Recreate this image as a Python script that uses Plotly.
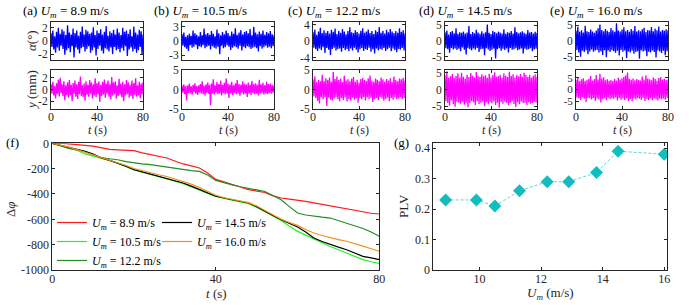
import numpy as np
import plotly.graph_objects as go

W, H = 692, 305

# ---------------- data ----------------
speeds_top = ["8.9", "10.5", "12.2", "14.5", "16.0"]
panel_letters = ["a", "b", "c", "d", "e"]
t_ticks = [0, 40, 80]

alpha_a = [1.2,-0.9,1.6,-1.3,0.7,-1.8,1.4,-1.0,2.0,-1.5,
           1.1,-0.7,1.8,-1.2,1.5,-2.1,0.9,-1.4,2.4,-1.1,
           1.3,-1.7,1.0,-0.8,1.9,-2.5,1.2,-1.0,1.6,-1.3,
           0.8,-1.9,1.4,-1.1,2.2,-0.9,1.0,-1.6,1.7,-1.2,
           1.5,-0.8,1.1,-1.8,1.3,-1.4,2.1,-1.0,0.9,-2.2,
           1.6,-1.2,1.2,-0.7,1.8,-1.5,1.0,-1.9,1.4,-1.1,
           2.3,-1.3,0.8,-1.6,1.5,-1.0,1.2,-2.0,1.7,-0.9,
           1.0,-1.4,1.9,-1.2,1.3,-1.7,0.9,-1.1,2.0,-1.5,
           1.4,-0.8,1.6,-2.3,1.1,-1.3,1.8,-1.0,0.7,-1.6,
           2.2,-1.2,1.3,-1.8,1.0,-1.4,1.7,-0.9,1.5,-2.1,1.0]
y_a = [0.9,-0.7,1.3,-1.0,0.6,-1.5,1.1,-0.8,1.7,-1.2,
       2.0,-0.6,0.9,-1.1,1.4,-1.8,0.7,-0.9,1.2,-1.4,
       1.6,-1.0,0.8,-2.0,1.1,-0.7,1.5,-1.2,0.9,-1.6,
       1.3,-0.8,2.2,-1.1,0.7,-1.3,1.0,-1.9,1.4,-0.9,
       0.8,-1.2,1.6,-0.7,1.2,-1.5,0.9,-1.0,1.9,-1.3,
       1.1,-0.8,1.4,-2.1,0.8,-1.1,1.3,-0.9,1.7,-1.4,
       1.0,-0.7,1.5,-1.2,0.9,-1.7,2.1,-1.0,1.2,-0.8,
       1.4,-1.5,0.7,-1.1,1.8,-0.9,1.0,-1.3,1.3,-2.0,
       0.9,-1.0,1.6,-0.8,1.2,-1.4,0.8,-1.1,1.5,-1.6,
       1.1,-0.9,1.9,-1.2,0.7,-1.0,1.3,-1.5,1.0,-0.8,1.2]
alpha_b = [1.4,-1.0,1.8,-1.3,0.9,-1.6,1.2,-2.1,1.5,-0.9,
           1.1,-1.4,2.2,-1.2,1.6,-0.8,1.3,-1.7,1.0,-1.1,
           1.9,-1.3,1.2,-0.9,2.6,-1.5,1.4,-1.2,1.7,-1.0,
           1.3,-1.8,2.1,-1.1,1.5,-1.4,1.0,-1.6,2.4,-1.2,
           1.6,-2.8,1.2,-1.0,1.9,-1.5,1.4,-1.3,2.2,-0.9,
           1.7,-1.2,1.1,-1.9,2.0,-1.4,1.5,-1.1,2.7,-1.3,
           1.3,-1.6,1.8,-1.0,2.3,-2.0,1.4,-1.2,1.9,-1.5,
           2.1,-1.1,1.6,-1.3,2.5,-1.7,1.2,-1.4,3.0,-1.2,
           1.8,-1.5,1.4,-2.2,2.0,-1.1,1.5,-1.6,2.2,-1.3,
           1.3,-1.0,1.9,-1.4,1.6,-1.2,2.1,-1.5,1.4,-1.1,1.2]
y_b = [1.0,-0.8,1.3,-1.2,0.9,-2.8,1.1,-0.9,1.5,-1.0,
       0.8,-1.3,1.2,-0.7,1.6,-1.1,0.9,-1.4,1.1,-0.8,
       1.4,-1.0,2.1,-1.2,1.0,-1.5,1.3,-0.9,1.8,-1.1,
       1.2,-4.0,1.5,-1.0,2.6,-1.3,1.1,-0.8,1.9,-1.2,
       1.4,-1.0,2.3,-1.5,1.2,-0.9,1.7,-1.3,2.8,-1.1,
       1.5,-2.2,1.3,-1.0,2.0,-1.4,1.1,-0.9,1.6,-1.2,
       2.4,-1.0,1.4,-1.6,1.2,-0.8,2.1,-1.3,1.5,-1.1,
       1.3,-1.9,1.8,-1.0,1.2,-1.4,2.2,-0.9,1.4,-1.2,
       1.6,-1.1,1.2,-1.5,2.5,-1.0,1.3,-0.8,1.7,-1.3,
       1.1,-1.0,2.0,-1.2,1.4,-0.9,1.5,-1.1,1.2,-0.8,1.0]
alpha_c = [2.1,-1.6,2.8,-2.0,1.5,-2.4,2.3,-1.8,3.2,-2.2,
           1.9,-1.5,2.6,-2.9,2.0,-1.7,2.4,-2.1,1.8,-3.4,
           2.7,-1.9,2.2,-1.6,3.0,-2.3,1.7,-2.0,2.5,-1.8,
           2.0,-2.6,2.9,-1.7,2.3,-2.2,1.6,-1.9,2.4,-2.5,
           3.3,-1.8,2.1,-2.3,1.9,-1.6,2.6,-2.1,2.2,-2.8,
           1.8,-2.0,2.5,-1.7,3.1,-2.4,2.0,-1.9,2.3,-2.2,
           2.8,-1.6,1.9,-2.6,2.4,-2.0,1.7,-3.0,2.6,-1.8,
           2.2,-2.3,3.4,-1.9,2.0,-2.1,2.5,-1.7,1.8,-2.4,
           2.7,-2.0,2.1,-1.6,2.9,-2.5,2.3,-1.8,1.9,-2.2,
           2.4,-2.7,2.0,-1.9,3.1,-2.1,2.2,-1.7,2.6,-2.3,1.8]
y_c = [2.6,-1.8,3.4,-2.2,1.9,-2.9,2.4,-3.6,2.1,-2.0,
       3.8,-2.5,2.2,-1.9,2.9,-4.2,2.5,-2.1,3.1,-2.6,
       2.0,-2.8,4.5,-2.3,2.7,-1.9,3.3,-2.5,2.4,-3.0,
       2.8,-2.2,1.9,-2.7,3.5,-2.0,2.3,-3.1,2.6,-2.4,
       2.1,-2.9,2.8,-2.1,3.2,-2.6,2.0,-2.3,2.5,-3.4,
       1.8,-2.2,2.7,-2.5,3.0,-1.9,2.4,-2.8,2.2,-2.0,
       2.9,-2.4,3.6,-2.1,2.3,-3.2,2.0,-2.5,2.8,-2.2,
       2.5,-2.7,2.1,-1.9,3.1,-2.3,2.6,-2.9,2.0,-2.4,
       2.7,-2.1,2.3,-3.0,2.9,-2.2,1.9,-2.6,3.3,-2.0,
       2.4,-2.5,2.1,-2.3,2.8,-1.9,2.6,-2.4,3.0,-2.2,2.3]
alpha_d = [2.8,-2.3,3.4,-2.6,2.1,-3.8,2.9,-2.2,3.2,-2.7,
           2.5,-2.4,4.1,-2.9,2.3,-2.5,2.8,-3.3,2.6,-2.1,
           3.0,-2.8,2.4,-4.3,2.7,-2.3,4.8,-2.6,2.2,-3.0,
           2.9,-2.4,2.5,-2.8,3.6,-2.2,2.7,-3.5,2.3,-2.6,
           3.1,-2.5,2.4,-4.6,2.8,-2.3,5.3,-2.7,2.6,-3.2,
           2.2,-2.8,3.3,-2.4,2.9,-5.6,2.5,-2.6,3.0,-2.3,
           2.7,-3.1,2.4,-2.5,3.8,-2.9,2.3,-2.4,2.8,-3.7,
           2.6,-2.2,3.2,-2.8,2.4,-2.6,4.4,-2.3,2.9,-3.0,
           2.5,-2.7,2.8,-2.4,3.1,-4.0,2.6,-2.5,2.3,-2.8,
           3.5,-2.6,2.7,-2.3,2.9,-3.3,2.4,-2.7,3.0,-2.5,2.6]
y_d = [4.2,-3.5,5.4,-4.0,3.6,-4.8,3.9,-3.2,4.6,-4.4,
       3.4,-5.1,4.0,-3.7,4.8,-3.9,3.5,-4.2,5.0,-3.6,
       3.8,-4.5,3.3,-3.9,4.4,-5.3,3.7,-4.0,4.9,-3.4,
       4.1,-3.8,3.6,-4.6,5.2,-3.5,4.0,-4.3,3.8,-3.9,
       4.5,-3.6,3.9,-5.0,4.2,-3.8,3.5,-4.4,4.7,-3.7,
       3.6,-4.1,4.3,-3.5,5.1,-4.6,3.8,-3.9,4.0,-5.4,
       4.4,-3.7,3.5,-4.2,4.8,-3.6,4.1,-4.0,3.7,-4.7,
       5.3,-3.9,4.0,-3.5,4.5,-4.3,3.6,-5.2,4.2,-3.8,
       3.9,-4.4,4.6,-3.6,3.8,-4.1,5.0,-3.9,4.3,-4.6,
       3.7,-3.8,4.4,-4.2,3.6,-4.0,4.1,-3.7,4.5,-3.9,3.8]
alpha_e = [3.2,-2.8,4.5,-3.6,2.9,-5.0,3.4,-3.1,2.7,-3.5,
           4.8,-2.9,3.1,-4.2,2.8,-3.3,3.6,-2.7,3.0,-3.4,
           2.6,-3.0,3.3,-2.8,4.0,-3.6,5.2,-3.2,3.5,-4.4,
           3.1,-2.9,3.8,-5.1,3.2,-3.0,2.8,-3.5,4.1,-2.9,
           3.4,-3.2,2.9,-3.7,5.6,-3.1,3.3,-4.6,3.0,-2.8,
           3.6,-3.4,4.3,-3.0,3.1,-5.4,3.5,-3.3,2.9,-3.6,
           3.8,-3.1,3.2,-4.0,4.7,-3.5,3.0,-3.2,3.4,-5.6,
           3.1,-2.9,3.7,-3.3,4.2,-3.1,2.8,-4.8,3.5,-3.4,
           3.3,-3.6,4.4,-3.0,3.1,-3.5,3.9,-5.2,3.4,-3.0,
           4.6,-3.3,3.0,-3.8,3.5,-3.1,3.2,-4.5,3.7,-3.2,3.3]
y_e = [4.1,-3.4,5.0,-3.8,3.6,-4.5,4.4,-3.2,4.8,-4.0,
       3.7,-5.4,4.2,-3.6,4.6,-3.9,5.8,-4.3,3.9,-3.7,
       4.5,-4.8,6.2,-3.9,4.3,-4.4,6.8,-5.6,4.7,-4.1,
       5.3,-3.8,4.0,-4.6,4.4,-3.5,3.8,-4.2,4.1,-3.9,
       3.6,-4.0,4.5,-3.4,3.9,-4.7,5.1,-3.7,4.3,-4.4,
       4.8,-3.9,5.5,-4.5,6.0,-3.8,7.3,-4.9,4.6,-4.2,
       4.2,-5.0,4.7,-3.8,4.0,-4.3,4.5,-3.6,4.1,-4.0,
       3.9,-4.4,5.6,-3.7,4.3,-4.9,6.1,-4.1,4.7,-4.5,
       4.4,-3.8,4.0,-4.6,5.2,-3.9,4.6,-4.3,3.8,-4.7,
       4.9,-4.0,5.4,-4.2,4.3,-3.9,4.7,-4.4,4.1,-3.7,4.2]

alpha_ticks = [[-2, 0, 2], [-3, 0, 3], [-4, 0, 4], [-5, 0, 5], [-5, 0, 5]]
y_ticks = [[-2, 0, 2], [-5, 0, 5], [-5, 0, 5], [-5, 0, 5], [-5, 0, 5]]

t_phase = list(range(0, 81, 2))
dphi_89 = [0,2,-5,-8,-16,-22,-35,-48,-52,-55,-58,-75,-90,-100,-116,-140,-163,-178,-195,-235,
           -285,-305,-322,-345,-366,-378,-388,-415,-432,-440,-447,-458,-470,-482,-492,-505,
           -516,-528,-540,-552,-558]
dphi_105 = [0,-20,-35,-55,-84,-100,-118,-135,-157,-185,-210,-228,-245,-260,-278,-298,-318,
            -340,-368,-395,-420,-435,-448,-462,-476,-505,-540,-575,-610,-655,-695,-725,-757,
            -785,-815,-840,-866,-890,-918,-935,-948]
dphi_122 = [0,-20,-40,-52,-65,-90,-112,-122,-130,-145,-155,-162,-168,-178,-189,-198,-208,
            -215,-222,-250,-293,-312,-328,-343,-358,-368,-380,-410,-445,-500,-550,-566,-576,
            -583,-590,-610,-629,-650,-672,-700,-734]
dphi_145 = [0,-15,-32,-48,-63,-85,-116,-135,-155,-180,-208,-225,-242,-258,-274,-293,-313,
            -338,-366,-392,-418,-432,-445,-458,-471,-500,-537,-570,-603,-630,-660,-700,-747,
            -775,-800,-820,-840,-865,-892,-905,-918]
dphi_160 = [0,-12,-30,-50,-70,-90,-112,-132,-150,-175,-200,-218,-232,-248,-262,-280,-298,
            -322,-350,-380,-410,-430,-442,-455,-468,-495,-530,-565,-600,-625,-648,-680,-708,
            -728,-747,-760,-773,-790,-812,-832,-852]
dphi_ticks = [-1000, -800, -600, -400, -200, 0]

plv_speed = [8.9, 9.9, 10.5, 11.3, 12.2, 12.9, 13.8, 14.5, 16.0]
plv_value = [0.23, 0.23, 0.21, 0.26, 0.29, 0.29, 0.32, 0.39, 0.38]
plv_ticks = [0, 0.1, 0.2, 0.3, 0.4]
speed_ticks = [10, 12, 14, 16]

alphas = [alpha_a, alpha_b, alpha_c, alpha_d, alpha_e]
ys = [y_a, y_b, y_c, y_d, y_e]

# ---------------- layout helpers ----------------
FONT = "Liberation Serif"
AX = "#262626"


def fx(p):
    return p / W


def fy(p):
    return 1 - p / H


def ax_id(n, letter):
    return letter if n == 1 else f"{letter}{n}"


def axis_style(size=12, **kw):
    d = dict(showline=True, linecolor=AX, linewidth=1, mirror="allticks",
             ticks="inside", ticklen=3, tickcolor=AX, tickwidth=1,
             showgrid=False, zeroline=False, fixedrange=True, automargin=False,
             tickfont=dict(family=FONT, size=size, color=AX))
    d.update(kw)
    return d


def label(text, x, y, angle=0, anchor="center", size=13, color=AX):
    return dict(text=text, x=fx(x), y=fy(y), xref="paper", yref="paper",
                textangle=angle, xanchor=anchor, yanchor="middle",
                showarrow=False, font=dict(family=FONT, size=size, color=color))


fig = go.Figure()
layout = {}
annotations = []

lefts = [51, 182, 313, 445, 576]
pw = 92
alpha_rng = [2.9, 4.0, 4.6, 6.1, 6.0]
y_rng = [3.3, 5.0, 5.0, 5.8, 8.4]
title_x = [20.7, 152, 286, 417, 548]

for i in range(5):
    na, ny = 2 * i + 1, 2 * i + 2
    ta = np.linspace(0, 80, len(alphas[i]))
    ty = np.linspace(0, 80, len(ys[i]))
    fig.add_trace(go.Scatter(x=ta, y=alphas[i], mode="lines",
                             line=dict(color="#0000FF", width=1.3),
                             xaxis=ax_id(na, "x"), yaxis=ax_id(na, "y"),
                             showlegend=False, hoverinfo="skip"))
    fig.add_trace(go.Scatter(x=ty, y=ys[i], mode="lines",
                             line=dict(color="#FF00FF", width=1.3),
                             xaxis=ax_id(ny, "x"), yaxis=ax_id(ny, "y"),
                             showlegend=False, hoverinfo="skip"))
    dom_x = [fx(lefts[i]), fx(lefts[i] + pw)]
    layout["xaxis" if na == 1 else f"xaxis{na}"] = axis_style(
        domain=dom_x, anchor=ax_id(na, "y"), range=[0, 80], tickvals=t_ticks,
        showticklabels=False)
    layout[f"yaxis{na}" if na > 1 else "yaxis"] = axis_style(
        size=11.5, domain=[fy(60), fy(22)], anchor=ax_id(na, "x"),
        range=[-alpha_rng[i], alpha_rng[i]], tickvals=alpha_ticks[i],
        ticktext=[str(v) for v in alpha_ticks[i]])
    layout[f"xaxis{ny}"] = axis_style(
        domain=dom_x, anchor=ax_id(ny, "y"), range=[0, 80], tickvals=t_ticks,
        ticklabelstandoff=-3)
    layout[f"yaxis{ny}"] = axis_style(
        size=11 if y_rng[i] > 8 else 11.5,
        domain=[fy(109), fy(70)], anchor=ax_id(ny, "x"),
        range=[-y_rng[i], y_rng[i]], tickvals=y_ticks[i],
        ticktext=[str(v) for v in y_ticks[i]])
    annotations.append(label(
        f"({panel_letters[i]}) <i>U<sub>m</sub></i> = {speeds_top[i]} m/s",
        title_x[i], 12, anchor="left", color="black"))
    annotations.append(label("<i>t</i> (s)", lefts[i] + pw / 2, 130, size=12))

annotations.append(label("<i>α</i>(°)", 31, 41, angle=-90))
annotations.append(label("<i>y</i> (mm)", 31, 90, angle=-90))

# (f) phase difference
series_f = [
    ("8.9", dphi_89, "#FF1A1A", "legend"),
    ("10.5", dphi_105, "#22F522", "legend"),
    ("12.2", dphi_122, "#238B23", "legend"),
    ("14.5", dphi_145, "#000000", "legend2"),
    ("16.0", dphi_160, "#F0901E", "legend2"),
]
for name, vals, col, leg in series_f:
    fig.add_trace(go.Scatter(x=t_phase, y=vals, mode="lines",
                             line=dict(color=col, width=1.2),
                             name=f"<i>U<sub>m</sub></i> = {name} m/s",
                             xaxis="x11", yaxis="y11", legend=leg,
                             hoverinfo="skip"))
layout["xaxis11"] = axis_style(domain=[fx(52.3), fx(379.3)], anchor="y11",
                               range=[0, 80], tickvals=t_ticks,
                               ticklabelstandoff=-2)
layout["yaxis11"] = axis_style(domain=[fy(270), fy(143.3)], anchor="x11",
                               range=[-1000, 0], tickvals=dphi_ticks,
                               ticktext=[str(v) for v in dphi_ticks])

# (g) PLV
fig.add_trace(go.Scatter(x=plv_speed, y=plv_value, mode="lines+markers",
                         line=dict(color="#5ED3D3", width=1, dash="3px,2px"),
                         marker=dict(symbol="diamond", size=10, color="#14BDBD"),
                         xaxis="x12", yaxis="y12", showlegend=False,
                         hoverinfo="skip"))
layout["xaxis12"] = axis_style(domain=[fx(433.3), fx(667.3)], anchor="y12",
                               range=[8.5, 16.1], tickvals=speed_ticks,
                               ticklabelstandoff=-2)
layout["yaxis12"] = axis_style(domain=[fy(270), fy(143.3)], anchor="x12",
                               range=[0, 0.416], tickvals=plv_ticks,
                               ticktext=["0", "0.1", "0.2", "0.3", "0.4"])

annotations += [
    label("(f)", 4, 142, anchor="left", color="black"),
    label("(g)", 392, 142, anchor="left", color="black"),
    label("Δ<i>φ</i>", 10, 209, angle=-90),
    label("<i>t</i> (s)", 216, 293),
    label("PLV", 403, 206, angle=-90),
    label("<i>U<sub>m</sub></i> (m/s)", 550, 293),
]

leg_common = dict(bgcolor="rgba(0,0,0,0)", borderwidth=0,
                  font=dict(family=FONT, size=12, color="black"),
                  xanchor="left", yanchor="top", tracegroupgap=0)
layout["legend"] = dict(x=fx(52), y=fy(208), **leg_common)
layout["legend2"] = dict(x=fx(157), y=fy(208), **leg_common)

fig.update_layout(width=W, height=H, margin=dict(l=0, r=0, t=0, b=0),
                  paper_bgcolor="white", plot_bgcolor="white",
                  annotations=annotations, **layout)

fig.write_html("out.html", config={"displayModeBar": False},
               post_script="document.body.style.margin='0';")
